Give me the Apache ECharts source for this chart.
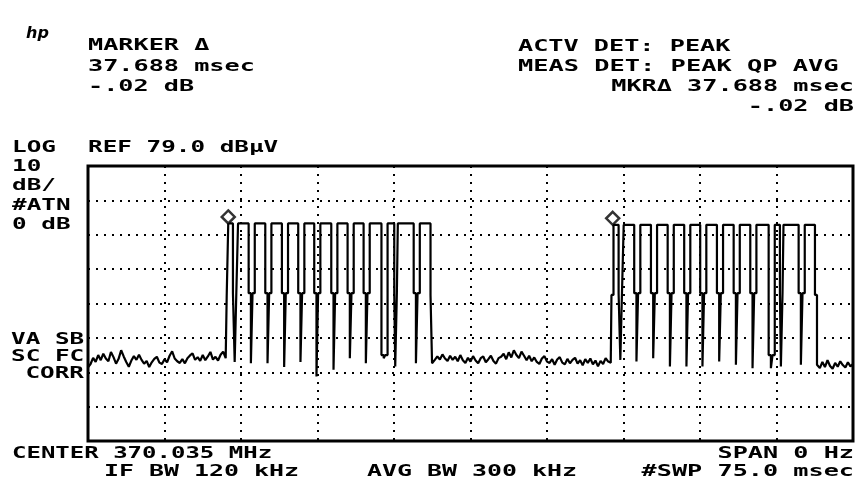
<!DOCTYPE html>
<html>
<head>
<meta charset="utf-8">
<script src="https://cdn.jsdelivr.net/npm/echarts@6/dist/echarts.min.js"></script>
<style>
html,body{margin:0;padding:0;background:#fff;}
#chart{width:857px;height:486px;}
</style>
</head>
<body>
<div id="chart"></div>
<script>
// ---- Sweep / display settings (spectrum analyzer, zero span) ----
const sweepTimeMs = 75;          // #SWP 75.0 msec
const refLevelDbuv = 79;         // REF 79.0 dBuV
const dbPerDiv = 10;             // LOG 10 dB/
const timeDivMs = 7.5;           // 10 horizontal divisions
const bottomLevelDbuv = refLevelDbuv - 8 * dbPerDiv;

// ---- Noise floor readings (dBuV), sampled every 0.25 ms ----
const noiseStepMs = 0.25;
const noise1StartMs = 0;
const noise1 = [
  20.4, 21.4, 23.2, 22.0, 24.0, 22.5, 24.4, 23.0, 22.2, 24.9,
  23.4, 21.5, 22.9, 25.4, 23.6, 22.0, 20.6, 22.4, 23.7, 22.6,
  24.1, 22.6, 21.5, 22.3, 20.5, 21.9, 22.9, 23.5, 21.8, 21.4,
  22.8, 21.9, 23.8, 25.1, 23.0, 22.2, 21.7, 22.8, 21.6, 23.1,
  23.9, 24.5, 22.6, 23.4, 22.3, 24.0, 22.5, 23.6, 24.9, 22.7,
  23.5, 22.4, 24.1, 25.0, 23.1
];
const noise2StartMs = 33.75;
const noise2 = [
  21.6, 22.6, 23.6, 22.7, 24.2, 23.0, 22.3, 23.8, 22.6, 23.5,
  22.2, 24.0, 22.5, 21.7, 23.2, 22.1, 23.7, 22.4, 21.6, 23.1,
  23.6, 21.9, 22.8, 23.8, 22.3, 21.5, 23.1, 23.5, 24.4, 22.8,
  24.8, 23.3, 25.4, 24.0, 23.1, 25.0, 23.8, 22.5, 23.8, 22.2,
  23.3, 22.0, 21.4, 23.0, 23.7, 22.1, 21.7, 22.8, 21.2, 22.7,
  23.4, 21.8, 21.3, 22.9, 21.6, 22.6, 23.2, 21.5, 22.5, 21.0,
  22.8, 21.7, 23.0, 21.3, 22.4, 20.7, 22.3, 21.4, 23.1, 22.1,
  21.8
];
const noise3StartMs = 71.5;
const noise3 = [21.2, 20.2, 22.0, 20.5, 22.5, 20.8, 20.0, 21.7, 20.6, 22.2, 21.1, 20.4, 21.9, 20.7, 21.4];

// ---- Bursts ----
const burstTopDbuv = [62.3, 61.9];
const burstEdgeStepDbuv = 41.5;
const burstOnMs = [[13.60, 13.75], [51.32, 51.52]];   // rise to step, rise to top
const burstOffMs = [[33.58, 33.73], [71.27, 71.47]];  // fall to step, fall to floor

// dips inside each burst
const dipCentersMs1 = [14.46, 16.05, 17.68, 19.31, 20.91, 22.48, 24.15, 25.75, 27.32, 29.07, 30.20, 32.23];
const dipFloorDbuv1 = [22.0, 21.6, 21.6, 20.5, 22.0, 17.8, 19.7, 23.1, 21.6, 23.1, 20.7, 21.6];
const dipCentersMs2 = [52.27, 53.85, 55.49, 57.13, 58.75, 60.32, 61.96, 63.60, 65.23, 67.03, 68.01, 69.97];
const dipFloorDbuv2 = [22.6, 22.1, 23.1, 20.7, 20.7, 20.7, 22.1, 21.2, 20.2, 20.2, 20.7, 21.2];
const dipWidthMs = [0.5, 0.6, 0.6, 0.6, 0.6, 0.6, 0.6, 0.6, 0.6, 0.6, 0.35, 0.6];
const dipStepDbuv = [42, 42, 42, 42, 42, 42, 42, 42, 42, 24, 42, 42];
const spikeWidthMs = 0.16;

// markers (normal + delta)
const markerTimesMs = [13.75, 51.44];
const markerLevelsDbuv = [62.3, 61.9];

// ---- Build trace from readings ----
const trace = [];
function pushNoise(startMs, values) {
  values.forEach((v, i) => trace.push([startMs + i * noiseStepMs, v]));
}
function pushBurst(b, centers, floors, nextNoise) {
  const top = burstTopDbuv[b];
  const last = trace[trace.length - 1][1];
  const [on1, on2] = burstOnMs[b];
  trace.push([on1, last], [on1, burstEdgeStepDbuv], [on2, burstEdgeStepDbuv], [on2, top]);
  centers.forEach((c, i) => {
    const hw = dipWidthMs[i] / 2;
    const hs = spikeWidthMs / 2;
    const step = dipStepDbuv[i];
    trace.push([c - hw, top], [c - hw, step], [c - hs, step], [c - hs, floors[i]],
               [c + hs, floors[i]], [c + hs, step], [c + hw, step], [c + hw, top]);
  });
  const [off1, off2] = burstOffMs[b];
  trace.push([off1, top], [off1, burstEdgeStepDbuv], [off2, burstEdgeStepDbuv], [off2, nextNoise]);
}
pushNoise(noise1StartMs, noise1);
pushBurst(0, dipCentersMs1, dipFloorDbuv1, noise2[0]);
pushNoise(noise2StartMs, noise2);
pushBurst(1, dipCentersMs2, dipFloorDbuv2, noise3[0]);
pushNoise(noise3StartMs, noise3);

// ---- Annotation texts ----
const FONT = 'bold 15px "DejaVu Sans Mono"';
const texts = [
  ['MARKER Δ', 88, 46.5, 'left', 1.68],
  ['37.688 msec', 88, 67.5, 'left', 1.68],
  ['-.02 dB', 88, 87.5, 'left', 1.68],
  ['ACTV DET: PEAK', 518, 47.5, 'left', 1.68],
  ['MEAS DET: PEAK QP AVG', 518, 67.5, 'left', 1.69],
  ['MKRΔ 37.688 msec', 854, 87.5, 'right', 1.68],
  ['-.02 dB', 854, 107.5, 'right', 1.68],
  ['LOG', 12, 148, 'left', 1.62],
  ['REF 79.0 dBµV', 88, 148, 'left', 1.62],
  ['10', 12, 167, 'left', 1.62],
  ['dB/', 12, 186.5, 'left', 1.62],
  ['#ATN', 12, 206, 'left', 1.62],
  ['0 dB', 12, 225, 'left', 1.62],
  ['VA SB', 11, 340, 'left', 1.62],
  ['SC FC', 11, 357, 'left', 1.62],
  ['CORR', 84, 374, 'right', 1.62],
  ['CENTER 370.035 MHz', 12, 454, 'left', 1.6],
  ['SPAN 0 Hz', 854, 454, 'right', 1.68],
  ['IF BW 120 kHz', 104, 472, 'left', 1.66],
  ['AVG BW 300 kHz', 367, 472, 'left', 1.66],
  ['#SWP 75.0 msec', 854, 472, 'right', 1.68]
];
const graphics = texts.map(([t, x, y, a, sx]) => ({
  type: 'text', x: x, y: y, scaleX: sx, scaleY: 1, silent: true,
  style: { text: t, font: FONT, fill: '#000', align: a, verticalAlign: 'middle', textAlign: a, textVerticalAlign: 'middle' }
}));
graphics.push({
  type: 'text', x: 26, y: 34, silent: true,
  style: { text: 'hp', font: 'bold italic 16px "DejaVu Sans"', fill: '#000', align: 'left', verticalAlign: 'middle' }
});

const chart = echarts.init(document.getElementById('chart'), null, { renderer: 'canvas' });
const dotted = { color: '#000', width: 2, type: [2, 6] };
chart.setOption({
  animation: false,
  backgroundColor: '#fff',
  grid: { left: 88, right: 4, top: 166, bottom: 45, show: true, borderColor: '#000', borderWidth: 3, backgroundColor: 'transparent' },
  xAxis: {
    type: 'value', min: 0, max: sweepTimeMs, interval: timeDivMs,
    axisLine: { show: false }, axisTick: { show: false }, axisLabel: { show: false },
    splitLine: { show: true, lineStyle: dotted }
  },
  yAxis: {
    type: 'value', min: bottomLevelDbuv, max: refLevelDbuv, interval: dbPerDiv,
    axisLine: { show: false }, axisTick: { show: false }, axisLabel: { show: false },
    splitLine: { show: true, lineStyle: dotted }
  },
  series: [
    {
      type: 'line', data: trace, showSymbol: false, symbol: 'none',
      lineStyle: { color: '#000', width: 2.2 }, clip: true, z: 3
    },
    {
      type: 'scatter', data: markerTimesMs.map((t, i) => [t, markerLevelsDbuv[i]]),
      symbol: 'diamond', symbolSize: [13, 13], symbolOffset: [0, -6.5],
      itemStyle: { color: '#fff', borderColor: '#000', borderWidth: 2.5 }, z: 4
    }
  ],
  graphic: graphics
});
</script>
</body>
</html>
